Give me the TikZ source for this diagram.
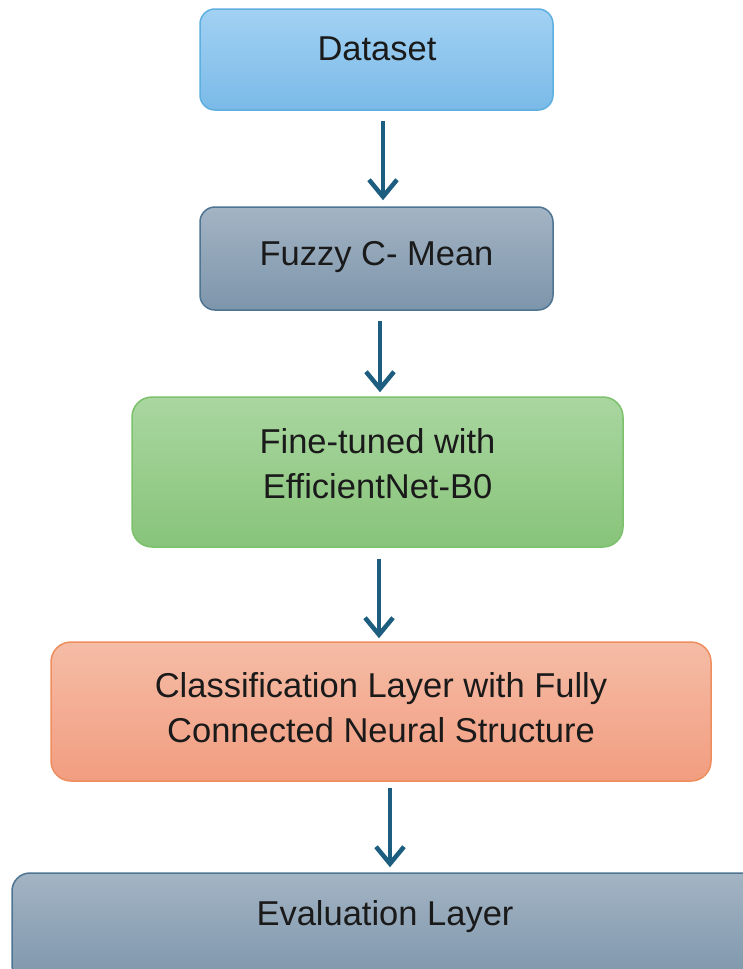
\documentclass[tikz,border=0pt]{standalone}
\usepackage{fontspec}
\setmainfont{Liberation Sans}
\usetikzlibrary{arrows.meta,shadings}
\definecolor{arrowblue}{HTML}{1D5E80}
\definecolor{txt}{HTML}{1A1A1A}
\definecolor{blueT}{HTML}{A2D1F3}
\definecolor{blueB}{HTML}{7ABAE8}
\definecolor{blueD}{HTML}{5DAFE0}
\definecolor{slateT}{HTML}{A3B4C4}
\definecolor{slateB}{HTML}{7D95AB}
\definecolor{slateD}{HTML}{4E7492}
\definecolor{greenT}{HTML}{A9D6A0}
\definecolor{greenB}{HTML}{88C47A}
\definecolor{greenD}{HTML}{7CC16C}
\definecolor{salT}{HTML}{F5BCA6}
\definecolor{salB}{HTML}{F29D80}
\definecolor{salD}{HTML}{EE8E5E}
\tikzset{
  box/.style={rounded corners=15pt, line width=1.5pt, inner sep=0pt},
  lbl/.style={anchor=base, text=txt, inner sep=0pt, font=\fontsize{34.5}{46}\selectfont},
  arr/.style={draw=arrowblue, line width=4.5pt, -{Straight Barb[length=17pt,width=28pt,line width=4.5pt]}},
}
\begin{document}
\begin{tikzpicture}[x=1pt,y=-1pt]
\useasboundingbox[fill=white] (0,0) rectangle (743,969);
% boxes
\node[box, top color=blueT, bottom color=blueB, draw=blueD,
      minimum width=353pt, minimum height=101pt] (b1) at (376.5,59.5) {};
\node[box, top color=slateT, bottom color=slateB, draw=slateD,
      minimum width=353pt, minimum height=103pt] (b2) at (376.5,258.5) {};
\node[box, rounded corners=20pt, top color=greenT, bottom color=greenB, draw=greenD,
      minimum width=491pt, minimum height=150pt] (b3) at (377.5,472) {};
\node[box, rounded corners=20pt, top color=salT, bottom color=salB, draw=salD,
      minimum width=660pt, minimum height=139pt] (b4) at (381,711.5) {};
\node[box, rounded corners=18pt, top color=slateT, bottom color=slateB, draw=slateD,
      minimum width=750pt, minimum height=110pt] (b5) at (387,928) {};
% texts
\node[lbl] (t1) at (377,60) {Dataset};
\node[lbl] (t2) at (376.5,265) {Fuzzy C- Mean};
\node[lbl] (t3a) at (377.5,453) {Fine-tuned with};
\node[lbl] (t3b) at (377.5,498) {EfficientNet-B0};
\node[lbl] (t4a) at (381,697) {Classification Layer with Fully};
\node[lbl] (t4b) at (381,742) {Connected Neural Structure};
\node[lbl] (t5) at (385,925) {Evaluation Layer};
% arrows
\draw[arr, shorten <=10pt, shorten >=6pt] ([xshift=6.5pt]b1.south) -- ([xshift=6.5pt]b2.north);
\draw[arr, shorten <=10pt, shorten >=4pt] ([xshift=3.5pt]b2.south) -- ([xshift=2.5pt]b3.north);
\draw[arr, shorten <=11pt, shorten >=3pt] ([xshift=1.5pt]b3.south) -- ([xshift=-2pt]b4.north);
\draw[arr, shorten <=6pt, shorten >=5pt] ([xshift=9pt]b4.south) -- ([xshift=3pt]b5.north);
\end{tikzpicture}
\end{document}
